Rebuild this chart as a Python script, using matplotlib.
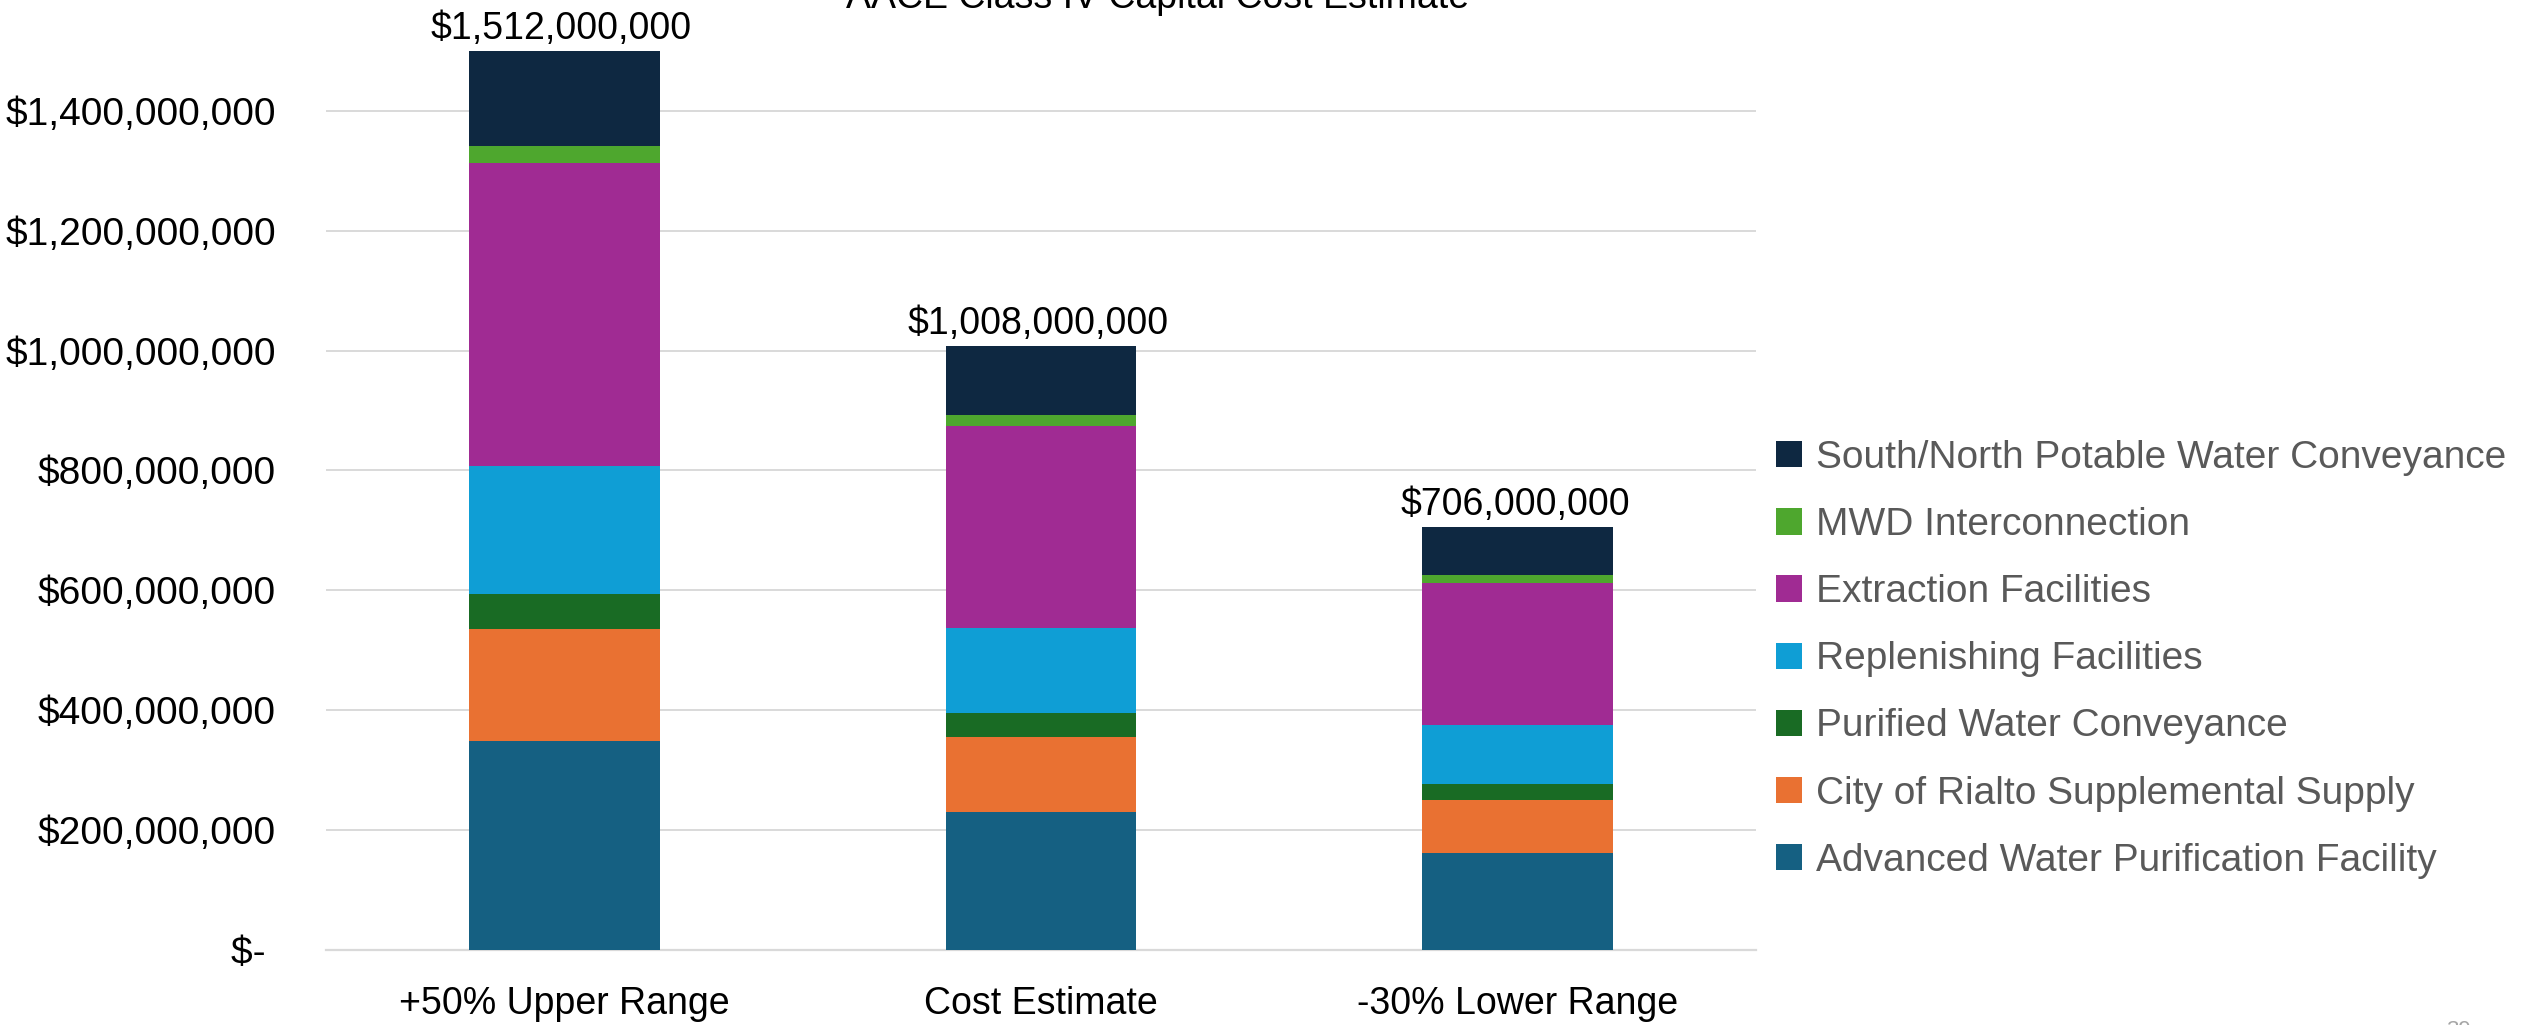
import matplotlib
matplotlib.use("Agg")
import matplotlib.pyplot as plt
from matplotlib.patches import Patch
import numpy as np

plt.rcParams['font.family'] = ['Liberation Sans', 'DejaVu Sans']

categories = ["+50% Upper Range", "Cost Estimate", "-30% Lower Range"]
series_names = [
    "Advanced Water Purification Facility",
    "City of Rialto Supplemental Supply",
    "Purified Water Conveyance",
    "Replenishing Facilities",
    "Extraction Facilities",
    "MWD Interconnection",
    "South/North Potable Water Conveyance",
]
# values in dollars
awpf = [348.5e6, 231e6, 162e6]
rialto = [187e6, 125e6, 88e6]
pwc = [59e6, 39e6, 27e6]
replenishing = [213e6, 142e6, 99e6]
extraction = [505e6, 337e6, 237e6]
mwd = [28.5e6, 19e6, 13e6]
south_north = [159e6, 115e6, 80e6]
totals_labels = ["$1,512,000,000", "$1,008,000,000", "$706,000,000"]
ytick_values = [0, 200e6, 400e6, 600e6, 800e6, 1000e6, 1200e6, 1400e6]
ytick_labels = ["$- ", "$200,000,000", "$400,000,000", "$600,000,000", "$800,000,000",
                "$1,000,000,000", "$1,200,000,000", "$1,400,000,000"]
colors = ["#156082", "#E97132", "#196B24", "#0F9ED5", "#A02B93", "#4EA72E", "#0E2841"]

W, H = 2527, 1025
fig = plt.figure(figsize=(W / 100, H / 100), dpi=100)
ax_left, ax_right = 326, 1756
ax_bottom_px = 950
ymax = 1.6e9
px_per_unit = (950 - 110.7) / 1.4e9
ax_h = ymax * px_per_unit
ax = fig.add_axes([ax_left / W, 1 - ax_bottom_px / H, (ax_right - ax_left) / W, ax_h / H])

series = [awpf, rialto, pwc, replenishing, extraction, mwd, south_north]
x = np.arange(len(categories))
bottom = np.zeros(len(categories))
handles = []
for name, vals, c in zip(series_names, series, colors):
    v = np.array(vals, dtype=float)
    ax.bar(x, v, 0.4, bottom=bottom, color=c, linewidth=0, zorder=3)
    bottom += v
    handles.append(Patch(facecolor=c, edgecolor='none', label=name))

for xi, top, lab in zip(x, bottom, totals_labels):
    ax.annotate(lab, (xi, top), xytext=(-2, 3), textcoords='offset points',
                ha='center', va='bottom', fontsize=27, color='black')

ax.set_xlim(-0.5, 2.5)
ax.set_ylim(0, ymax)
ax.set_yticks(ytick_values)
ax.set_yticklabels(ytick_labels)
ax.set_xticks(x)
ax.set_xticklabels(categories)
ax.tick_params(axis='y', length=0, pad=36, labelsize=28, labelcolor='black')
ax.tick_params(axis='x', length=0, pad=26, labelsize=27, labelcolor='black')
ax.grid(axis='y', color='#D9D9D9', linewidth=1.4, zorder=0)
ax.set_axisbelow(True)
for s in ['top', 'right', 'left']:
    ax.spines[s].set_visible(False)
ax.spines['bottom'].set_color('#D9D9D9')
ax.spines['bottom'].set_linewidth(1.6)

leg = fig.legend(handles=handles[::-1], loc='upper left',
                 bbox_to_anchor=(1776 / W, 1 - 440 / H), frameon=False,
                 fontsize=28, handlelength=0.66, handleheight=0.66,
                 handletextpad=0.38, labelspacing=0.80, borderpad=0, borderaxespad=0)
for t in leg.get_texts():
    t.set_color('#595959')

fig.text(1158 / W, 1 - 8 / H, "AACE Class IV Capital Cost Estimate", ha='center',
         va='baseline', fontsize=27, color='black')
fig.text(2458 / W, 1 - 1020 / H, "39", ha='center', va='top', fontsize=16, color='#A6A6A6')

fig.savefig("out.png", dpi=100)
